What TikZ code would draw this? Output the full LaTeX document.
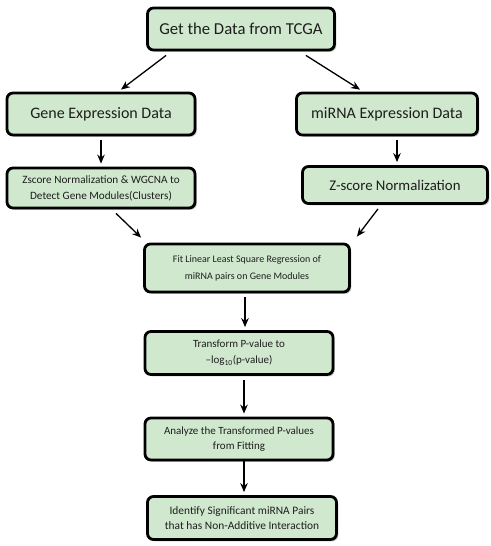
\documentclass[tikz,border=0pt]{standalone}
\usepackage{fontspec}
\setmainfont{Carlito}
\usetikzlibrary{shadows,arrows.meta}
\definecolor{boxgreen}{RGB}{208,232,206}
\definecolor{txt}{RGB}{30,30,30}
\tikzset{
  flowbox/.style={draw=black, line width=2.8pt, rounded corners=6pt, fill=boxgreen,
    drop shadow={shadow xshift=1.8pt, shadow yshift=-1.8pt, fill=black!45},
    align=center, inner sep=0pt, text=txt},
  conn/.style={-{Stealth[length=9pt,width=7.5pt]}, line width=1.3pt},
}
\begin{document}
\begin{tikzpicture}[x=1pt,y=-1pt]
\useasboundingbox (0,0) rectangle (490,546);
\node[flowbox, minimum width=187pt, minimum height=42pt, font=\fontsize{16.7}{18}\selectfont] (tcga) at (241,29) {Get the Data from TCGA};
\node[flowbox, minimum width=188pt, minimum height=42pt, font=\fontsize{16}{17}\selectfont] (gene) at (101,114) {Gene Expression Data};
\node[flowbox, minimum width=181pt, minimum height=42pt, font=\fontsize{16}{17}\selectfont] (mirna) at (387,114) {miRNA Expression Data};
\node[flowbox, minimum width=188pt, minimum height=40pt, font=\fontsize{11.2}{16}\selectfont] (zgene) at (101,188) {Zscore Normalization \& WGCNA to\\Detect Gene Modules(Clusters)};
\node[flowbox, minimum width=185pt, minimum height=37pt, font=\fontsize{14.8}{15}\selectfont] (zmir) at (395,185) {Z-score Normalization};
\node[flowbox, minimum width=205pt, minimum height=48pt, font=\fontsize{10}{17}\selectfont] (fit) at (247,268) {Fit Linear Least Square Regression of\\miRNA pairs on Gene Modules};
\node[flowbox, minimum width=188pt, minimum height=43pt, font=\fontsize{11}{16}\selectfont] (trans) at (239,353) {Transform P-value to\\–log\textsubscript{10}(p-value)};
\node[flowbox, minimum width=188pt, minimum height=42pt, font=\fontsize{11}{15}\selectfont] (anal) at (239,439) {Analyze the Transformed P-values\\from Fitting};
\node[flowbox, minimum width=189pt, minimum height=43pt, font=\fontsize{11.4}{14.5}\selectfont] (ident) at (242,518) {Identify Significant miRNA Pairs\\that has Non-Additive Interaction};
\draw[conn] ([xshift=20pt,yshift=-4pt]tcga.south west) -- ([xshift=20pt,yshift=2pt]gene.north);
\draw[conn] ([xshift=-30pt,yshift=-4pt]tcga.south east) -- ([xshift=-27pt,yshift=2pt]mirna.north);
\draw[conn] ([yshift=-4pt]gene.south) -- ([yshift=3pt]zgene.north);
\draw[conn] ([xshift=10pt,yshift=-4pt]mirna.south) -- ([xshift=2pt,yshift=3pt]zmir.north);
\draw[conn] ([xshift=15pt,yshift=-4pt]zgene.south) -- ([xshift=-2pt,yshift=5pt]fit.north west);
\draw[conn] ([xshift=-17pt,yshift=-4pt]zmir.south) -- ([xshift=6pt,yshift=6pt]fit.north east);
\draw[conn] ([xshift=-2pt,yshift=-4pt]fit.south) -- ([xshift=6pt,yshift=3pt]trans.north);
\draw[conn] ([xshift=5pt,yshift=-4pt]trans.south) -- ([xshift=5pt,yshift=3pt]anal.north);
\draw[conn] ([xshift=5pt]anal.south) -- ([xshift=2pt,yshift=3pt]ident.north);
\end{tikzpicture}
\end{document}
